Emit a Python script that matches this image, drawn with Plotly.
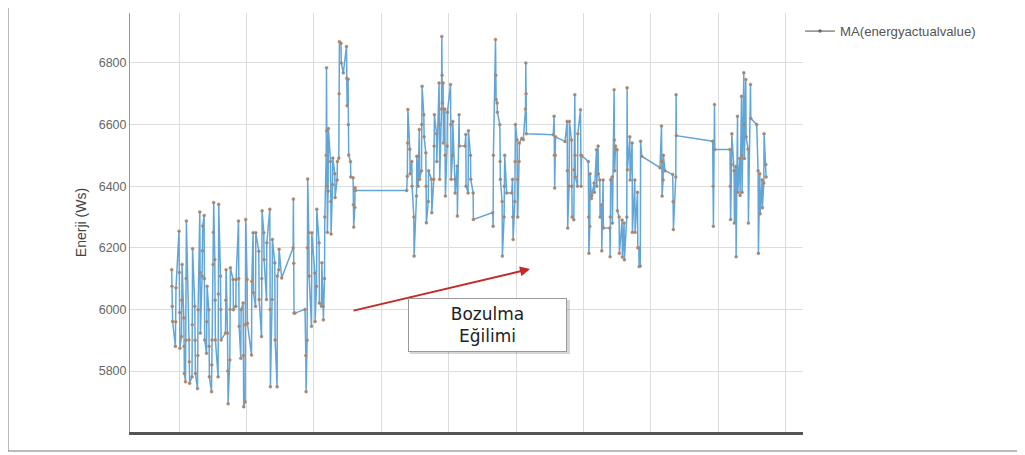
import plotly.graph_objects as go

# ---- data: time index (arbitrary units) and moving-average energy (Ws) ----
t_a = [
    41.7, 42.0, 42.3, 42.6,  45.4, 45.7, 46.0,  49.0, 49.3, 49.6, 49.9,  51.5, 51.8, 52.1,
    53.8, 54.1, 54.4,  55.5, 55.8, 56.1, 56.4,  59.0, 59.3, 59.6,  62.0, 62.3, 62.6,
    64.8, 65.1, 65.4,  67.5, 67.8, 68.1,  69.8, 70.1, 70.4,  72.1, 72.4, 72.7,
    74.1, 74.4, 74.7,  76.5, 76.8, 77.1,  78.8, 79.1, 79.4,  81.5, 81.8, 82.1,
    83.1, 83.4, 83.7,  84.8, 85.1, 85.4,  88.1, 88.4, 88.7,  90.5, 90.8, 91.1,
    95.5, 95.8, 96.1,  97.5, 97.8, 98.1,  99.8, 100.1, 100.4,  103.1, 103.4,  105.8, 106.1,
    108.5, 108.8, 109.1,  110.8, 111.1,  113.1, 113.4, 113.7,  115.1, 115.4, 115.7,
    117.1, 117.4,  121.5, 121.8,  123.1, 123.4,  125.5, 125.8,  128.8, 129.1,
    131.5, 131.8, 132.1,  133.8, 134.1,  136.5, 136.8,  139.8, 140.1, 140.4,
    142.1, 142.4,  144.8, 145.1,  147.1, 147.4,  148.8, 149.1,  151.7,
    163.1, 163.4, 163.7, 164.0,  165.0, 175.0,  175.8, 176.1,  177.1, 177.4, 177.7,
    178.8, 179.1,  181.5, 181.8,  184.8, 185.1,  186.5, 186.8,  189.1, 189.4,
    191.5, 191.8,  193.1, 193.4,  194.5, 194.8,
]
e_a = [
    6129, 6075, 6010, 5961,  5880, 5960, 6070,  6254, 6120, 5990, 5874,  5912, 6030, 6146,
    5972, 5880, 5792,  5765, 5900, 6100, 6287,  5901, 5830, 5760,  5781, 5950, 6197,
    6010, 5900, 5792,  5743, 5850, 5999,  6316, 6120, 5923,  6108, 6190, 6271,
    6305, 6100, 5901,  5858, 5960, 6075,  5999, 5880, 5781,  5733, 5820, 5901,
    6146, 6250, 6347,  6162, 6030, 5901,  5781, 6050, 6341,  6108, 6000, 5901,
    5923, 6030, 6129,  5923, 5800, 5694,  5836, 6000, 6135,  6097, 5999,  6010, 6097,
    6287, 6100, 5945,  5841, 5999,  6021, 5850, 5684,  5700, 5950, 6292,
    6097, 5955,  5852, 6091,  6249, 6054,  6010, 6249,  6189, 6032,
    5912, 6100, 6320,  6249, 6162,  6032, 6216,  6325, 6000, 5749,
    6032, 6227,  6151, 5901,  5749, 6108,  6129, 6195,  6102,
    6200, 6358, 6150, 5988,  5988, 6000,  5850, 5733,  5900, 6200, 6423,
    6249, 6108,  5945, 6249,  6118, 5961,  6075, 6325,  6216, 6021,
    6010, 6151,  6010, 5966,  6100, 6300,
]

t_b = [
    196.2, 196.5, 196.8, 197.1, 197.4,  198.1, 198.4,  200.5, 200.8, 201.1,  202.5, 202.8,
    204.8, 205.1,  207.1, 207.4,  208.8, 209.1, 209.4,  211.0, 211.3,  213.3,
    216.5, 216.8, 217.1,  218.1, 218.4, 218.7,  220.5, 220.8,  223.1, 223.4, 223.7,
    224.8, 225.1, 225.4,  276.7,
]
e_b = [
    6500, 6784, 6580, 6400, 6250,  6384, 6587,  6480, 6350, 6245,  6405, 6491,
    6440, 6363,  6420, 6480,  6491, 6700, 6869,  6864, 6800,  6768,
    6853, 6750, 6661,  6747, 6600, 6501,  6480, 6430,  6427, 6340, 6267,
    6331, 6395, 6386,  6386,
]

t_c = [
    277.3, 277.6, 277.9,  279.8, 280.1,  281.8, 282.1,  283.8, 284.1,  286.5, 286.8,
    288.1, 288.4,  289.3, 289.6,  291.5, 291.8, 292.1,  293.8, 294.1,  295.8, 296.1, 296.4,
    298.3, 298.6,  301.5, 301.8,  303.8, 304.1, 304.4,  306.5, 306.8,  309.1, 309.4, 309.7,
    311.5, 311.8, 312.1, 312.4,  313.1, 313.4,  314.8, 315.1, 315.4,  317.1, 317.4,
    320.5, 320.8, 321.1,  322.5, 322.8,  324.8, 325.1,  327.1, 327.4,  329.1, 329.4,  335.0,
    335.8, 336.1,  338.1, 338.4,  340.5, 340.8,  343.1, 343.4,  362.7,  363.1, 363.4,
    365.5, 365.8, 366.1,  367.1, 367.4,  369.8, 370.1, 370.4,  372.1, 372.4,
    374.1, 374.4, 374.7,  376.7, 381.7,  382.5, 382.8, 383.1,  384.8, 385.1, 385.4,
    387.1, 387.4, 387.7,  389.1, 389.4,  391.7,  393.3,  395.5, 395.8, 396.1, 396.4,  423.3,
]
e_c = [
    6432, 6540, 6649,  6520, 6440,  6480, 6400,  6300, 6173,  6368, 6497,
    6400, 6497,  6584, 6422,  6450, 6600, 6724,  6632, 6560,  6508, 6400, 6281,
    6350, 6450,  6422, 6314,  6422, 6530, 6632,  6570, 6480,  6735, 6600, 6422,
    6650, 6886, 6760, 6670,  6735, 6540,  6650, 6500, 6368,  6530, 6640,
    6730, 6600, 6422,  6500, 6610,  6422, 6378,  6465, 6303,  6632, 6530,  6530,
    6568, 6400,  6378, 6580,  6500, 6422,  6378, 6292,  6314,  6270, 6500,
    6876, 6760, 6681,  6670, 6640,  6600, 6480, 6422,  6350, 6173,
    6300, 6400, 6500,  6378, 6378,  6422, 6300, 6227,  6350, 6480, 6600,
    6550, 6422, 6300,  6480, 6540,  6555,  6551,  6650, 6800, 6700, 6570,  6567,
]

t_d = [
    424.1, 424.4, 424.7,  425.2, 425.5,  435.0,  437.1, 437.4, 437.7,  439.1, 439.4,
    441.5, 441.8, 442.1,  443.8, 444.1,  444.8, 445.1, 445.4,  447.5, 447.8,
    450.5, 450.8, 451.1,  451.5,  458.3, 458.6, 458.9,  459.8, 460.1,  461.5, 461.8,
    464.1, 464.4,  466.5, 466.8,  468.1, 468.4,  469.8, 470.1,  471.5, 471.8,  473.1, 473.4,
    479.8, 480.1, 480.4, 480.7,  482.1, 482.4,  484.1, 484.4, 484.7,  485.5, 485.8,
    487.1, 487.4,  489.1, 489.4,  492.1, 492.4,  494.1, 494.4,  496.8, 497.1, 497.4,
    499.8, 500.1,  502.1, 502.4,  504.8, 505.1,  507.5, 507.8,  508.8, 509.1,
    510.3, 510.6, 511.7,  530.0,  531.5, 531.8, 532.1,  533.1, 533.4,  535.0,  542.7,
    543.1, 543.4,  545.8, 546.1, 546.4,  582.7,  583.1, 583.4,  584.5, 584.8,  600.0,
    600.3, 600.6,  601.5, 601.8,  604.1, 604.4,  605.8, 606.1,  607.5, 607.8,  609.8, 610.1,
    611.5, 611.8, 612.1,  613.8, 614.1, 614.4,  615.8, 616.1,  618.1, 618.4,  620.5, 620.8,
    626.7,  628.1, 628.4,  629.8, 630.1,  632.1, 632.4,  633.8, 634.1,  635.8, 636.1,
]
e_d = [
    6627, 6500, 6394,  6500, 6560,  6545,  6610, 6450, 6264,  6400, 6610,
    6550, 6400, 6300,  6291, 6453,  6697, 6500, 6430,  6400, 6570,
    6648, 6500, 6400,  6500,  6480, 6300, 6182,  6270, 6440,  6360, 6370,
    6410, 6380,  6518, 6400,  6530, 6440,  6420, 6300,  6340, 6190,  6420, 6264,
    6264, 6171, 6300, 6421,  6430, 6280,  6713, 6550, 6450,  6530, 6520,
    6518, 6320,  6300, 6182,  6290, 6170,  6280, 6161,  6300, 6719, 6453,
    6560, 6420,  6540, 6250,  6420, 6250,  6380, 6200,  6200, 6139,
    6141, 6546, 6497,  6460,  6595, 6480, 6368,  6420, 6500,  6450,  6438,
    6350, 6259,  6430, 6697, 6564,  6546,  6400, 6270,  6665, 6519,  6519,
    6400, 6292,  6470, 6570,  6450, 6280,  6464, 6171,  6627, 6380,  6490, 6370,
    6692, 6500, 6380,  6768, 6600, 6490,  6746, 6560,  6520, 6280,  6730, 6620,
    6600,  6450, 6182,  6440, 6310,  6420, 6330,  6410, 6570,  6470, 6430,
]

series_name = "MA(energyactualvalue)"
y_ticks = [5800, 6000, 6200, 6400, 6600, 6800]
y_title = "Enerji (Ws)"
note_text = "Bozulma<br>Eğilimi"

t_all = t_a + t_b + t_c + t_d
e_all = e_a + e_b + e_c + e_d

fig = go.Figure()
fig.add_trace(go.Scatter(
    x=t_all, y=e_all, mode="lines+markers", showlegend=False,
    line=dict(color="#62a6d8", width=1.5),
    marker=dict(size=3, color="#8a8a8a", line=dict(color="#cf8c5c", width=0.5)),
))
# legend entry
fig.add_trace(go.Scatter(
    x=[None], y=[None], mode="lines+markers", name=series_name,
    line=dict(color="#6a6a6a", width=1.2),
    marker=dict(size=3.5, color="#6a6a6a"),
))

# the page body adds an 8 px offset; work in window pixels
OFF = 8
WIN_W, WIN_H = 1025, 455
W, H = WIN_W - OFF, WIN_H - OFF
plot_left, plot_right, plot_top, plot_bottom = 130, 803, 13, 432
L = plot_left - OFF
R = W - (plot_right - OFF)
T = plot_top - OFF
B = H - (plot_bottom - OFF)
pw, ph = plot_right - plot_left, plot_bottom - plot_top

def px(xw):
    return (xw - plot_left) / pw

def py(yw):
    return (plot_bottom - yw) / ph

fig.update_layout(
    width=W, height=H, autosize=False,
    margin=dict(l=L, r=R, t=T, b=B, pad=0),
    paper_bgcolor="white", plot_bgcolor="white",
    font=dict(family="Liberation Sans, Arial, sans-serif", color="#555"),
    legend=dict(x=px(800), y=py(16), xanchor="left", yanchor="top",
                font=dict(size=13.2, color="#555"), bgcolor="rgba(0,0,0,0)",
                itemwidth=30),
    xaxis=dict(range=[0, 673], tick0=49, dtick=67.4, showticklabels=False, ticks="",
               showgrid=True, gridcolor="#dddddd", gridwidth=1, zeroline=False,
               showline=True, linecolor="#555555", linewidth=2.5),
    yaxis=dict(range=[5602, 6962], tickvals=y_ticks, ticks="", showgrid=True,
               gridcolor="#dddddd", gridwidth=1, zeroline=False,
               showline=True, linecolor="#999999", linewidth=1,
               tickfont=dict(size=12.5, color="#666"),
               title=dict(text=y_title, font=dict(size=14, color="#444"), standoff=8)),
    shapes=[
        dict(type="rect", xref="paper", yref="paper", x0=px(8), x1=px(1020), y0=py(451), y1=py(2),
             line=dict(color="#777", width=1), fillcolor="rgba(0,0,0,0)", layer="below"),
        dict(type="rect", xref="paper", yref="paper", x0=px(410), x1=px(570), y0=py(354), y1=py(300),
             line=dict(width=0), fillcolor="rgba(0,0,0,0.16)", layer="above"),
    ],
    annotations=[
        dict(xref="paper", yref="paper", x=px(530), y=py(269), ax=-178, ay=42,
             text="", showarrow=True, arrowhead=2, arrowsize=1, arrowwidth=2,
             arrowcolor="#c62828", standoff=0),
        dict(xref="paper", yref="paper", x=px(487.5), y=py(325), xanchor="center", yanchor="middle",
             text=note_text, showarrow=False, width=153, height=48, borderpad=2,
             bordercolor="#999", borderwidth=1, bgcolor="white",
             font=dict(family="DejaVu Sans, Verdana, sans-serif", size=17, color="#222")),
    ],
)

fig.write_html("out.html")
